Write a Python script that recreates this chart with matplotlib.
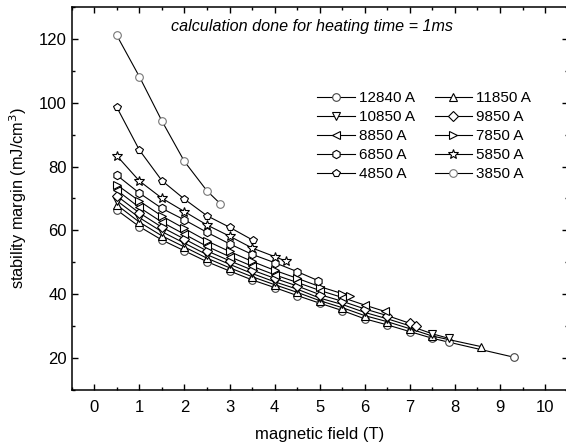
import matplotlib
matplotlib.use("Agg")
import matplotlib.pyplot as plt
from matplotlib.ticker import MultipleLocator

plt.rcParams['font.family'] = ['Liberation Sans', 'DejaVu Sans']

# ---- data ----
currents = ["12840 A", "11850 A", "10850 A", "9850 A", "8850 A",
            "7850 A", "6850 A", "5850 A", "4850 A", "3850 A"]

x_12840 = [0.5, 1.0, 1.5, 2.0, 2.5, 3.0, 3.5, 4.0, 4.5, 5.0, 5.5, 6.0, 6.5, 7.0, 7.5, 7.86, 9.3]
y_12840 = [66.4, 61.2, 57.0, 53.6, 50.2, 47.3, 44.5, 42.1, 39.6, 37.2, 34.9, 32.3, 30.4, 28.3, 26.2, 25.0, 20.3]

x_11850 = [0.5, 1.0, 1.5, 2.0, 2.5, 3.0, 3.5, 4.0, 4.5, 5.0, 5.5, 6.0, 6.5, 7.0, 7.5, 8.58]
y_11850 = [68.0, 62.6, 58.3, 54.8, 51.3, 48.3, 45.5, 43.0, 40.6, 38.0, 35.8, 33.3, 31.4, 29.2, 26.9, 23.6]

x_10850 = [0.5, 1.0, 1.5, 2.0, 2.5, 3.0, 3.5, 4.0, 4.5, 5.0, 5.5, 6.0, 6.5, 7.0, 7.5, 7.86]
y_10850 = [69.3, 64.0, 59.6, 56.0, 52.4, 49.4, 46.5, 43.9, 41.6, 38.8, 36.8, 34.3, 32.3, 30.1, 27.6, 26.2]

x_9850 = [0.5, 1.0, 1.5, 2.0, 2.5, 3.0, 3.5, 4.0, 4.5, 5.0, 5.5, 6.0, 6.5, 7.0, 7.13]
y_9850 = [70.8, 65.5, 61.0, 57.3, 53.6, 50.5, 47.6, 45.0, 42.6, 39.9, 37.8, 35.4, 33.3, 30.9, 30.1]

x_8850 = [0.5, 1.0, 1.5, 2.0, 2.5, 3.0, 3.5, 4.0, 4.5, 5.0, 5.5, 6.0, 6.45]
y_8850 = [72.6, 67.2, 62.6, 58.8, 55.0, 51.8, 48.8, 46.1, 43.7, 41.2, 39.0, 36.6, 34.6]

x_7850 = [0.5, 1.0, 1.5, 2.0, 2.5, 3.0, 3.5, 4.0, 4.5, 5.0, 5.5, 5.68]
y_7850 = [74.3, 69.2, 64.5, 60.6, 56.7, 53.4, 50.3, 47.5, 45.0, 42.4, 40.2, 39.3]

x_6850 = [0.5, 1.0, 1.5, 2.0, 2.5, 3.0, 3.5, 4.0, 4.5, 4.96]
y_6850 = [77.3, 71.7, 66.9, 63.3, 59.4, 55.8, 52.5, 49.9, 47.1, 44.3]

x_5850 = [0.5, 1.0, 1.5, 2.0, 2.5, 3.0, 3.5, 4.0, 4.25]
y_5850 = [83.4, 75.5, 70.1, 65.9, 61.7, 58.2, 54.5, 51.8, 50.4]

x_4850 = [0.5, 1.0, 1.5, 2.0, 2.5, 3.0, 3.51]
y_4850 = [98.6, 85.2, 75.6, 69.8, 64.6, 61.0, 57.0]

x_3850 = [0.5, 1.0, 1.5, 2.0, 2.5, 2.8]
y_3850 = [121.1, 108.2, 94.3, 81.6, 72.4, 68.3]

xs = [x_12840, x_11850, x_10850, x_9850, x_8850, x_7850, x_6850, x_5850, x_4850, x_3850]
ys = [y_12840, y_11850, y_10850, y_9850, y_8850, y_7850, y_6850, y_5850, y_4850, y_3850]

markers = ['o', '^', 'v', 'D', '<', '>', 'h', '*', 'p', 'o']
msizes = [5.5, 6, 6, 5, 6, 6, 6, 7, 6, 5.5]
edgecols = ['#444444', 'black', 'black', 'black', 'black', 'black', 'black', 'black', 'black', '#777777']

xticks = list(range(0, 11))
yticks = [20, 40, 60, 80, 100, 120]

# ---- figure ----
fig = plt.figure(figsize=(5.66, 4.45), dpi=100)
ax = fig.add_axes([0.1267, 0.1236, 0.8762, 0.8607])

handles = []
for xv, yv, lab, m, ms, ec in zip(xs, ys, currents, markers, msizes, edgecols):
    h, = ax.plot(xv, yv, color='black', lw=0.8, marker=m, ms=ms,
                 mfc='white', mec=ec, mew=0.8, label=lab)
    handles.append(h)

ax.set_xlim(-0.5, 10.5)
ax.set_ylim(10, 130)
ax.set_xticks(xticks)
ax.set_yticks(yticks)
ax.xaxis.set_minor_locator(MultipleLocator(0.5))
ax.yaxis.set_minor_locator(MultipleLocator(10))
ax.tick_params(which='both', direction='in', top=True, right=True,
               labelsize=12, width=1.0)
ax.tick_params(which='major', length=4)
ax.tick_params(which='minor', length=2)
ax.tick_params(axis='x', which='major', pad=7)
ax.tick_params(axis='y', which='major', pad=3.5)
for s in ax.spines.values():
    s.set_linewidth(1.1)
ax.spines['right'].set_visible(False)

ax.set_xlabel('magnetic field (T)', fontsize=12, labelpad=9)
ax.set_ylabel('stability margin (mJ/cm$^3$)', fontsize=11.8, labelpad=7)

ax.text(4.82, 123.8, 'calculation done for heating time = 1ms', ha='center',
        va='center', fontsize=11.6, style='italic')

# legend order: row-major in two columns
order = [0, 2, 4, 6, 8, 1, 3, 5, 7, 9]
leg = ax.legend([handles[i] for i in order], [currents[i] for i in order],
                ncol=2, loc='upper left', bbox_to_anchor=(0.495, 0.78),
                frameon=False, fontsize=11, borderpad=0, borderaxespad=0,
                handlelength=2.45, handletextpad=0.28, columnspacing=1.3,
                labelspacing=0.33)

fig.savefig('out.png', dpi=100)
